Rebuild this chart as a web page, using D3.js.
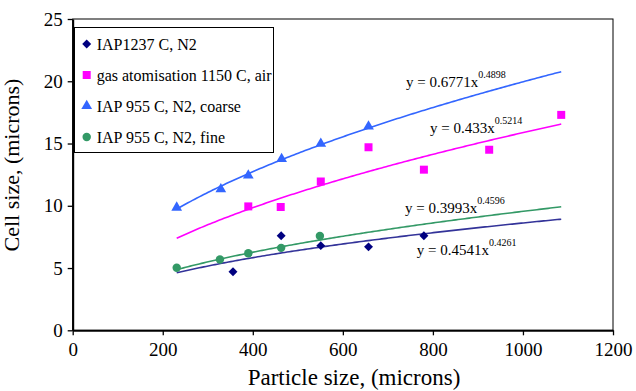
<!DOCTYPE html>
<html>
<head>
<meta charset="utf-8">
<script src="https://cdn.jsdelivr.net/npm/d3@7"></script>
<style>
body { margin: 0; background: #fff; }
text { font-family: "Liberation Serif", "Times New Roman", serif; fill: #000; }
</style>
</head>
<body>
<svg id="chart" width="636" height="391"></svg>
<script>
// values (particle size / cell size, microns)
var iap1237X = [356, 463, 551, 657, 780];
var iap1237Y = [4.7, 7.6, 6.8, 6.7, 7.6];
var gasX = [390, 462, 551, 657, 780, 925, 1085];
var gasY = [9.95, 9.9, 11.95, 14.7, 12.9, 14.5, 17.3];
var coarseX = [231, 329, 390, 464, 551, 657];
var coarseY = [9.86, 11.33, 12.43, 13.77, 14.98, 16.37];
var fineX = [231, 327, 390, 463, 549];
var fineY = [5.03, 5.68, 6.19, 6.62, 7.58];

var seriesNames = ["IAP1237 C, N2", "gas atomisation 1150 C, air", "IAP 955 C, N2, coarse", "IAP 955 C, N2, fine"];

// power trendlines y = a * x^b, as printed on the chart
var trendA = ["0.4541", "0.433", "0.6771", "0.3993"];
var trendB = ["0.4261", "0.5214", "0.4898", "0.4596"];
var trendFrom = 231, trendTo = 1085;

var xTicks = [0, 200, 400, 600, 800, 1000, 1200];
var yTicks = [0, 5, 10, 15, 20, 25];

var colors = ["#000080", "#ff00ff", "#3366ff", "#339966"];
var lineColors = ["#333399", "#ff00ff", "#3366ff", "#339966"];
var shapes = [d3.symbolSquare, d3.symbolSquare, d3.symbolTriangle, d3.symbolCircle];
var shapeSizes = [40, 64, 50, 56];
var shapeRot = [45, 0, 0, 0];  // diamond = square turned 45 deg

var svg = d3.select("#chart");
var plotLeft = 72.7, plotRight = 613, plotTop = 19, plotBottom = 330.3;

var x = d3.scaleLinear().domain([0, 1200]).range([plotLeft, plotRight]);
var y = d3.scaleLinear().domain([0, 25]).range([plotBottom, plotTop]);

// plot frame
svg.append("rect")
    .attr("x", plotLeft).attr("y", plotTop)
    .attr("width", plotRight - plotLeft).attr("height", plotBottom - plotTop)
    .attr("fill", "none").attr("stroke", "#000").attr("stroke-width", 1);

// axes
var xAxis = svg.append("g")
    .attr("transform", "translate(0," + plotBottom + ")")
    .call(d3.axisBottom(x).tickValues(xTicks).tickFormat(d3.format("d")).tickSize(5).tickSizeOuter(0).tickPadding(7));
var yAxis = svg.append("g")
    .attr("transform", "translate(" + plotLeft + ",0)")
    .call(d3.axisLeft(y).tickValues(yTicks).tickFormat(d3.format("d")).tickSize(5).tickSizeOuter(0).tickPadding(5));
[xAxis, yAxis].forEach(function(g){
    g.attr("font-family", null);
    g.select(".domain").attr("stroke", "#000").attr("stroke-width", 2);
    g.selectAll(".tick line").attr("stroke", "#000").attr("stroke-width", 1.3);
    g.selectAll(".tick text").attr("font-size", 19).attr("fill", "#000");
});

// axis titles
svg.append("text")
    .attr("x", 354).attr("y", 385)
    .attr("text-anchor", "middle").attr("font-size", 23)
    .text("Particle size, (microns)");
svg.append("text")
    .attr("transform", "translate(19,165) rotate(-90)")
    .attr("text-anchor", "middle").attr("font-size", 22)
    .text("Cell size, (microns)");

// trendlines
var trendXs = d3.range(trendFrom, trendTo, 5).concat([trendTo]);
var line = d3.line().x(function(d){ return x(d[0]); }).y(function(d){ return y(d[1]); });
trendA.forEach(function(a, i){
    var pts = trendXs.map(function(v){ return [v, +a * Math.pow(v, +trendB[i])]; });
    svg.append("path")
        .attr("d", line(pts))
        .attr("fill", "none")
        .attr("stroke", lineColors[i])
        .attr("stroke-width", 1.6);
});

// data points
var allX = [iap1237X, gasX, coarseX, fineX];
var allY = [iap1237Y, gasY, coarseY, fineY];
allX.forEach(function(xs, i){
    svg.append("g").selectAll("path")
        .data(xs.map(function(v, j){ return [v, allY[i][j]]; }))
        .enter()
        .append("path")
        .attr("d", d3.symbol().type(shapes[i]).size(shapeSizes[i]))
        .attr("transform", function(d){ return "translate(" + x(d[0]) + "," + y(d[1]) + ") rotate(" + shapeRot[i] + ")"; })
        .attr("fill", colors[i]);
});

// equation labels
var eqPos = [[416.7, 255], [430, 133.3], [406, 86.7], [405, 213.3]];
trendA.forEach(function(a, i){
    var t = svg.append("text")
        .attr("x", eqPos[i][0]).attr("y", eqPos[i][1])
        .attr("font-size", 15);
    t.append("tspan").text("y = " + a + "x");
    t.append("tspan").attr("dy", -9).attr("font-size", 10).text(trendB[i]);
});

// legend
var legend = svg.append("g");
legend.append("rect")
    .attr("x", 74.5).attr("y", 27.5)
    .attr("width", 199).attr("height", 125)
    .attr("fill", "#fff").attr("stroke", "#000").attr("stroke-width", 1);
seriesNames.forEach(function(name, i){
    legend.append("path")
        .attr("d", d3.symbol().type(shapes[i]).size(shapeSizes[i]))
        .attr("transform", "translate(86.7," + (44 + i * 31) + ") rotate(" + shapeRot[i] + ")")
        .attr("fill", colors[i]);
    legend.append("text")
        .attr("x", 96.7).attr("y", 49.5 + i * 31)
        .attr("font-size", 16)
        .text(name);
});
</script>
</body>
</html>
